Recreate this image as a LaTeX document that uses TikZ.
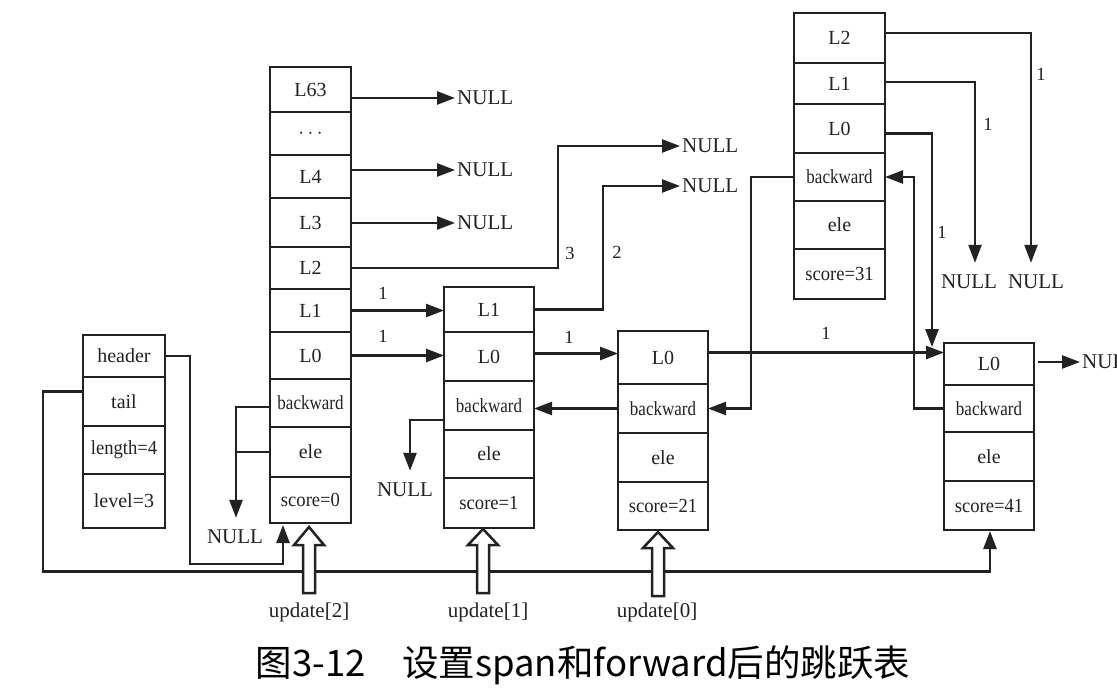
\documentclass[tikz,border=0pt]{standalone}
\usepackage{fontspec}
\setmainfont{Liberation Serif}
\newfontfamily\cjk{Noto Sans CJK SC}
\usepackage{graphicx}
\usetikzlibrary{arrows.meta,calc}
\definecolor{ink}{HTML}{222222}
\tikzset{
 cell/.style={draw=ink, line width=2.7pt, inner sep=0pt, outer sep=0pt, font=\fontsize{20}{22}\selectfont, text=ink},
 conn/.style={draw=ink, line width=2.5pt, -{Triangle[length=18pt,width=13pt]}},
 plain/.style={draw=ink, line width=2.5pt},
 nulltxt/.style={font=\fontsize{21}{23}\selectfont, text=ink, inner sep=2pt},
 numlbl/.style={font=\fontsize{18.5}{20}\selectfont, text=ink, inner sep=0pt},
 hollow/.style={draw=ink, line width=2.5pt, fill=white, line join=miter},
 updlbl/.style={font=\fontsize{21}{23}\selectfont, text=ink, inner sep=1pt},
}
\newcommand\bwtext{\scalebox{0.85}[1]{backward}}
\newcommand\sctext[1]{\scalebox{0.93}[1]{#1}}
\begin{document}
\begin{tikzpicture}[x=1pt,y=-1pt]
\useasboundingbox[fill=white] (0,0) rectangle (1117,698);

% header table
\node[cell, minimum width=82pt, minimum height=42pt] (hH) at (124,356) {header};
\node[cell, minimum width=82pt, minimum height=49pt] (hT) at (124,401.5) {tail};
\node[cell, minimum width=82pt, minimum height=48pt] (hL) at (124,450) {\sctext{length=4}};
\node[cell, minimum width=82pt, minimum height=54pt] (hV) at (124,501) {level=3};

% node 1
\node[cell, minimum width=81pt, minimum height=45pt] (aL63) at (310.5,89.5) {L63};
\node[cell, minimum width=81pt, minimum height=43pt] (aDots) at (310.5,133.5) {$\cdots$};
\node[cell, minimum width=81pt, minimum height=43pt] (aL4) at (310.5,176.5) {L4};
\node[cell, minimum width=81pt, minimum height=49pt] (aL3) at (310.5,222.5) {L3};
\node[cell, minimum width=81pt, minimum height=42pt] (aL2) at (310.5,268) {L2};
\node[cell, minimum width=81pt, minimum height=43pt] (aL1) at (310.5,310.5) {L1};
\node[cell, minimum width=81pt, minimum height=47pt] (aL0) at (310.5,355.5) {L0};
\node[cell, minimum width=81pt, minimum height=48pt] (aB) at (310.5,403) {\bwtext};
\node[cell, minimum width=81pt, minimum height=50pt] (aE) at (310.5,452) {ele};
\node[cell, minimum width=81pt, minimum height=46pt] (aS) at (310.5,500) {\sctext{score=0}};

% node 2
\node[cell, minimum width=90pt, minimum height=45pt] (bL1) at (489,309.5) {L1};
\node[cell, minimum width=90pt, minimum height=49pt] (bL0) at (489,356.5) {L0};
\node[cell, minimum width=90pt, minimum height=49pt] (bB) at (489,405.5) {\bwtext};
\node[cell, minimum width=90pt, minimum height=48pt] (bE) at (489,454) {ele};
\node[cell, minimum width=90pt, minimum height=50pt] (bS) at (489,503) {\sctext{score=1}};

% node 3
\node[cell, minimum width=90pt, minimum height=53pt] (cL0) at (663,357.5) {L0};
\node[cell, minimum width=90pt, minimum height=49pt] (cB) at (663,408.5) {\bwtext};
\node[cell, minimum width=90pt, minimum height=49pt] (cE) at (663,457.5) {ele};
\node[cell, minimum width=90pt, minimum height=48pt] (cS) at (663,506) {\sctext{score=21}};

% node 4
\node[cell, minimum width=91pt, minimum height=50pt] (dL2) at (839.5,38) {L2};
\node[cell, minimum width=91pt, minimum height=41pt] (dL1) at (839.5,83.5) {L1};
\node[cell, minimum width=91pt, minimum height=49pt] (dL0) at (839.5,128.5) {L0};
\node[cell, minimum width=91pt, minimum height=48pt] (dB) at (839.5,177) {\bwtext};
\node[cell, minimum width=91pt, minimum height=48pt] (dE) at (839.5,225) {ele};
\node[cell, minimum width=91pt, minimum height=50pt] (dS) at (839.5,274) {\sctext{score=31}};

% node 5
\node[cell, minimum width=90pt, minimum height=42pt] (eL0) at (989,364) {L0};
\node[cell, minimum width=90pt, minimum height=47pt] (eB) at (989,408.5) {\bwtext};
\node[cell, minimum width=90pt, minimum height=49pt] (eE) at (989,456.5) {ele};
\node[cell, minimum width=90pt, minimum height=49pt] (eS) at (989,505.5) {\sctext{score=41}};

% NULL texts
\node[nulltxt, anchor=west] (n63) at (455,98) {NULL};
\node[nulltxt, anchor=west] (n4) at (455,170) {NULL};
\node[nulltxt, anchor=west] (n3) at (455,223) {NULL};
\node[nulltxt, anchor=west] (n2) at (680,146) {NULL};
\node[nulltxt, anchor=west] (nb1) at (680,186) {NULL};
\node[nulltxt] (nd1) at (969,282) {NULL};
\node[nulltxt] (nd2) at (1036,282) {NULL};
\node[nulltxt, anchor=west] (ne0) at (1080,362) {NULL};
\node[nulltxt] (na0) at (235,537) {NULL};
\node[nulltxt] (nb0) at (405,490) {NULL};

% connectors of node 1
\draw[conn] (aL63.east |- n63.west) -- (n63.west);
\draw[conn] (aL4.east |- n4.west) -- (n4.west);
\draw[conn] (aL3.east |- n3.west) -- (n3.west);
\draw[conn] (aL2.east) -- ++(207,0) |- (n2.west);
\draw[conn] (aL1.east) -- (aL1.east -| bL1.west);
\draw[conn] (aL0.east) -- (aL0.east -| bL0.west);
\draw[conn] ($(aB.west)+(0,4)$) -| ($(na0.north)+(1,-10)$);
\draw[plain] (aE.west) -- ++(-34,0);

% node 2
\draw[conn] (bL1.east) -- ++(69,0) |- (nb1.west);
\draw[conn] ($(bL0.east)+(0,-3)$) -- ($(bL0.east -| cL0.west)+(0,-3)$);
\draw[conn] ($(bB.west)+(0,14.5)$) -| ($(nb0.north)+(5,-10)$);

% node 3
\draw[conn] (cB.west) -- (cB.west -| bB.east);
\draw[conn] ($(cL0.east)+(0,-5)$) -- ($(cL0.east -| eL0.west)+(0,-5)$);

% node 4
\draw[conn] (dB.west) -- ++(-43,0) |- (cB.east);
\draw[conn] ($(dL0.east)+(0,5)$) -- ++(47,0) -- ($(eL0.north west)+(-12,4)$);
\draw[conn] ($(dL1.east)+(0,-1.5)$) -| ($(nd1.north)+(6,-10)$);
\draw[conn] ($(dL2.east)+(0,-5)$) -| ($(nd2.north)+(-5,-10)$);

% node 5
\draw[conn] (eB.west) -- ++(-30,0) |- (dB.east);
\draw[conn] ($(eL0.east)+(4,-2)$) -- (ne0.west);

% header / tail
\draw[conn] (hH.east) -- ++(25,0) -- ++(0,208) -| ($(aS.south)+(-27.5,2)$);
\draw[conn] ($(hT.west)+(0,-10)$) -- ++(-40,0) -- ++(0,180) -| ($(eS.south)+(1,1)$);

% span labels
\node[numlbl] (s1) at (383,293) {1};
\node[numlbl] (s2) at (383,336) {1};
\node[numlbl] (s3) at (569,337) {1};
\node[numlbl] (s4) at (826,333) {1};
\node[numlbl] (s5) at (942,232) {1};
\node[numlbl] (s6) at (988,124) {1};
\node[numlbl] (s7) at (1041,74) {1};
\node[numlbl] (s8) at (570,253) {3};
\node[numlbl] (s9) at (617,252) {2};

% update arrows
\draw[hollow] (303,593) -- (303,545) -- (294,545) -- (309,527) -- (324,545) -- (315,545) -- (315,593) -- cycle;
\draw[hollow] (477,593) -- (477,545) -- (468,545) -- (483,529) -- (498,545) -- (489,545) -- (489,593) -- cycle;
\draw[hollow] (652,596) -- (652,548) -- (643,548) -- (658,532) -- (673,548) -- (664,548) -- (664,596) -- cycle;
\node[updlbl] (u2) at (309,612) {update[2]};
\node[updlbl] (u1) at (488,612) {update[1]};
\node[updlbl] (u0) at (657,612) {update[0]};

% caption
\node[font=\cjk\fontsize{36.5}{40}\selectfont, text=black, inner sep=0pt] (cap) at (583,665) {图3-12　设置span和forward后的跳跃表};
\end{tikzpicture}
\end{document}
